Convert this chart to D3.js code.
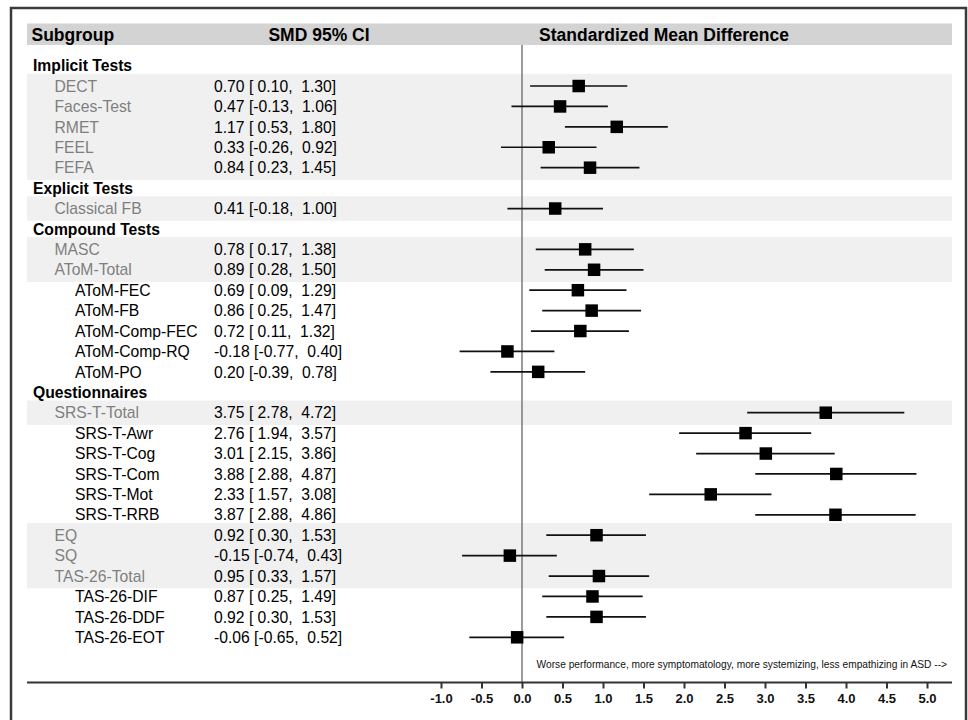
<!DOCTYPE html>
<html>
<head>
<meta charset="utf-8">
<script src="https://cdn.jsdelivr.net/npm/d3@7/dist/d3.min.js"></script>
<style>
  html, body { margin: 0; padding: 0; background: #fff; }
  svg { display: block; font-family: "Liberation Sans", Arial, sans-serif; }
  .pre { white-space: pre; }
</style>
</head>
<body>
<svg id="chart" width="968" height="720"></svg>
<script>
// ---- data ----
const labels = ["Implicit Tests","DECT","Faces-Test","RMET","FEEL","FEFA",
  "Explicit Tests","Classical FB",
  "Compound Tests","MASC","AToM-Total","AToM-FEC","AToM-FB","AToM-Comp-FEC","AToM-Comp-RQ","AToM-PO",
  "Questionnaires","SRS-T-Total","SRS-T-Awr","SRS-T-Cog","SRS-T-Com","SRS-T-Mot","SRS-T-RRB",
  "EQ","SQ","TAS-26-Total","TAS-26-DIF","TAS-26-DDF","TAS-26-EOT"];
const rowTypes = ["group","main","main","main","main","main",
  "group","main",
  "group","main","main","sub","sub","sub","sub","sub",
  "group","main","sub","sub","sub","sub","sub",
  "main","main","main","sub","sub","sub"];
const smd   = [null,0.70,0.47,1.17,0.33,0.84, null,0.41, null,0.78,0.89,0.69,0.86,0.72,-0.18,0.20,
  null,3.75,2.76,3.01,3.88,2.33,3.87, 0.92,-0.15,0.95,0.87,0.92,-0.06];
const lower = [null,0.10,-0.13,0.53,-0.26,0.23, null,-0.18, null,0.17,0.28,0.09,0.25,0.11,-0.77,-0.39,
  null,2.78,1.94,2.15,2.88,1.57,2.88, 0.30,-0.74,0.33,0.25,0.30,-0.65];
const upper = [null,1.30,1.06,1.80,0.92,1.45, null,1.00, null,1.38,1.50,1.29,1.47,1.32,0.40,0.78,
  null,4.72,3.57,3.86,4.87,3.08,4.86, 1.53,0.43,1.57,1.49,1.53,0.52];
const xTicks = [-1.0,-0.5,0.0,0.5,1.0,1.5,2.0,2.5,3.0,3.5,4.0,4.5,5.0];
const headers = ["Subgroup","SMD 95% CI","Standardized Mean Difference"];
const note = "Worse performance, more symptomatology, more systemizing, less empathizing in ASD -->";

// ---- layout ----
const svg = d3.select("#chart");
const panelL = 27, panelR = 952;
const y = d3.scaleLinear().domain([0, 28]).range([65.6, 637.3]);
const rowH = y(1) - y(0);
const x = d3.scaleLinear().domain([-1, 5]).range([441, 927]);

// outer border (open at bottom)
svg.append("path")
  .attr("d", `M11,722 L11,8 L966,8 L966,722`)
  .attr("fill", "none").attr("stroke", "#3a3a3a").attr("stroke-width", 2.5);

// header bar
svg.append("rect").attr("x", panelL).attr("y", 23.5).attr("width", panelR - panelL).attr("height", 21.5)
  .attr("fill", "#d3d3d3");
const hdr = svg.append("g").attr("font-weight", "bold").attr("font-size", 17.5).attr("fill", "#000");
hdr.append("text").attr("x", 31.5).attr("y", 40.5).text(headers[0]);
hdr.append("text").attr("x", 319).attr("y", 40.5).attr("text-anchor", "middle").text(headers[1]);
hdr.append("text").attr("x", 664).attr("y", 40.5).attr("text-anchor", "middle").text(headers[2]);

// shaded bands for consecutive "main" rows
const idx = d3.range(labels.length);
const runs = [];
idx.forEach(i => {
  if (rowTypes[i] === "main") {
    const last = runs[runs.length - 1];
    if (last && last[1] === i - 1) last[1] = i; else runs.push([i, i]);
  }
});
svg.append("g").selectAll("rect").data(runs).join("rect")
  .attr("x", panelL).attr("width", panelR - panelL)
  .attr("y", d => y(d[0]) - rowH * 0.6)
  .attr("height", d => y(d[1]) - y(d[0]) + rowH * 1.2)
  .attr("fill", "#f0f0f0");

// zero line
svg.append("line").attr("x1", x(0)).attr("x2", x(0)).attr("y1", 45).attr("y2", 682)
  .attr("stroke", "#7a7a7a").attr("stroke-width", 1.5);

// labels
const labelX = {group: 33, main: 54.5, sub: 75};
svg.append("g").selectAll("text").data(idx).join("text")
  .attr("x", i => labelX[rowTypes[i]])
  .attr("y", i => y(i))
  .attr("dy", "0.36em")
  .attr("font-size", 15.7)
  .attr("font-weight", i => rowTypes[i] === "group" ? "bold" : "normal")
  .attr("fill", i => rowTypes[i] === "main" ? "#7f7f7f" : "#000")
  .text(i => labels[i]);

// CI text
const pad = v => (v < 0 ? "" : " ") + v.toFixed(2);
const dataIdx = idx.filter(i => smd[i] !== null);
svg.append("g").selectAll("text").data(dataIdx).join("text")
  .attr("class", "pre")
  .attr("x", 214).attr("y", i => y(i)).attr("dy", "0.36em")
  .attr("font-size", 15.7).attr("fill", "#000")
  .text(i => `${smd[i].toFixed(2)} [${pad(lower[i])}, ${pad(upper[i])}]`);

// CI lines and squares
const marks = svg.append("g");
marks.selectAll("line").data(dataIdx).join("line")
  .attr("x1", i => x(lower[i])).attr("x2", i => x(upper[i]))
  .attr("y1", i => y(i)).attr("y2", i => y(i))
  .attr("stroke", "#111").attr("stroke-width", 1.7);
const sq = 12.5;
marks.selectAll("rect").data(dataIdx).join("rect")
  .attr("x", i => x(smd[i]) - sq / 2).attr("y", i => y(i) - sq / 2)
  .attr("width", sq).attr("height", sq).attr("fill", "#000");

// note
svg.append("text").attr("x", 947).attr("y", 668).attr("text-anchor", "end")
  .attr("font-size", 10.2).attr("fill", "#111").text(note);

// axis
svg.append("line").attr("x1", panelL).attr("x2", panelR).attr("y1", 682.5).attr("y2", 682.5)
  .attr("stroke", "#333").attr("stroke-width", 2.2);
const axis = svg.append("g").attr("transform", "translate(0,682.5)")
  .call(d3.axisBottom(x).tickValues(xTicks).tickFormat(d => d.toFixed(1)).tickSize(6).tickPadding(5));
axis.select(".domain").remove();
axis.selectAll(".tick line").attr("stroke", "#333").attr("stroke-width", 2);
axis.selectAll(".tick text").attr("font-family", "Liberation Sans, Arial, sans-serif")
  .attr("font-size", 13).attr("font-weight", "bold").attr("fill", "#111");
</script>
</body>
</html>
